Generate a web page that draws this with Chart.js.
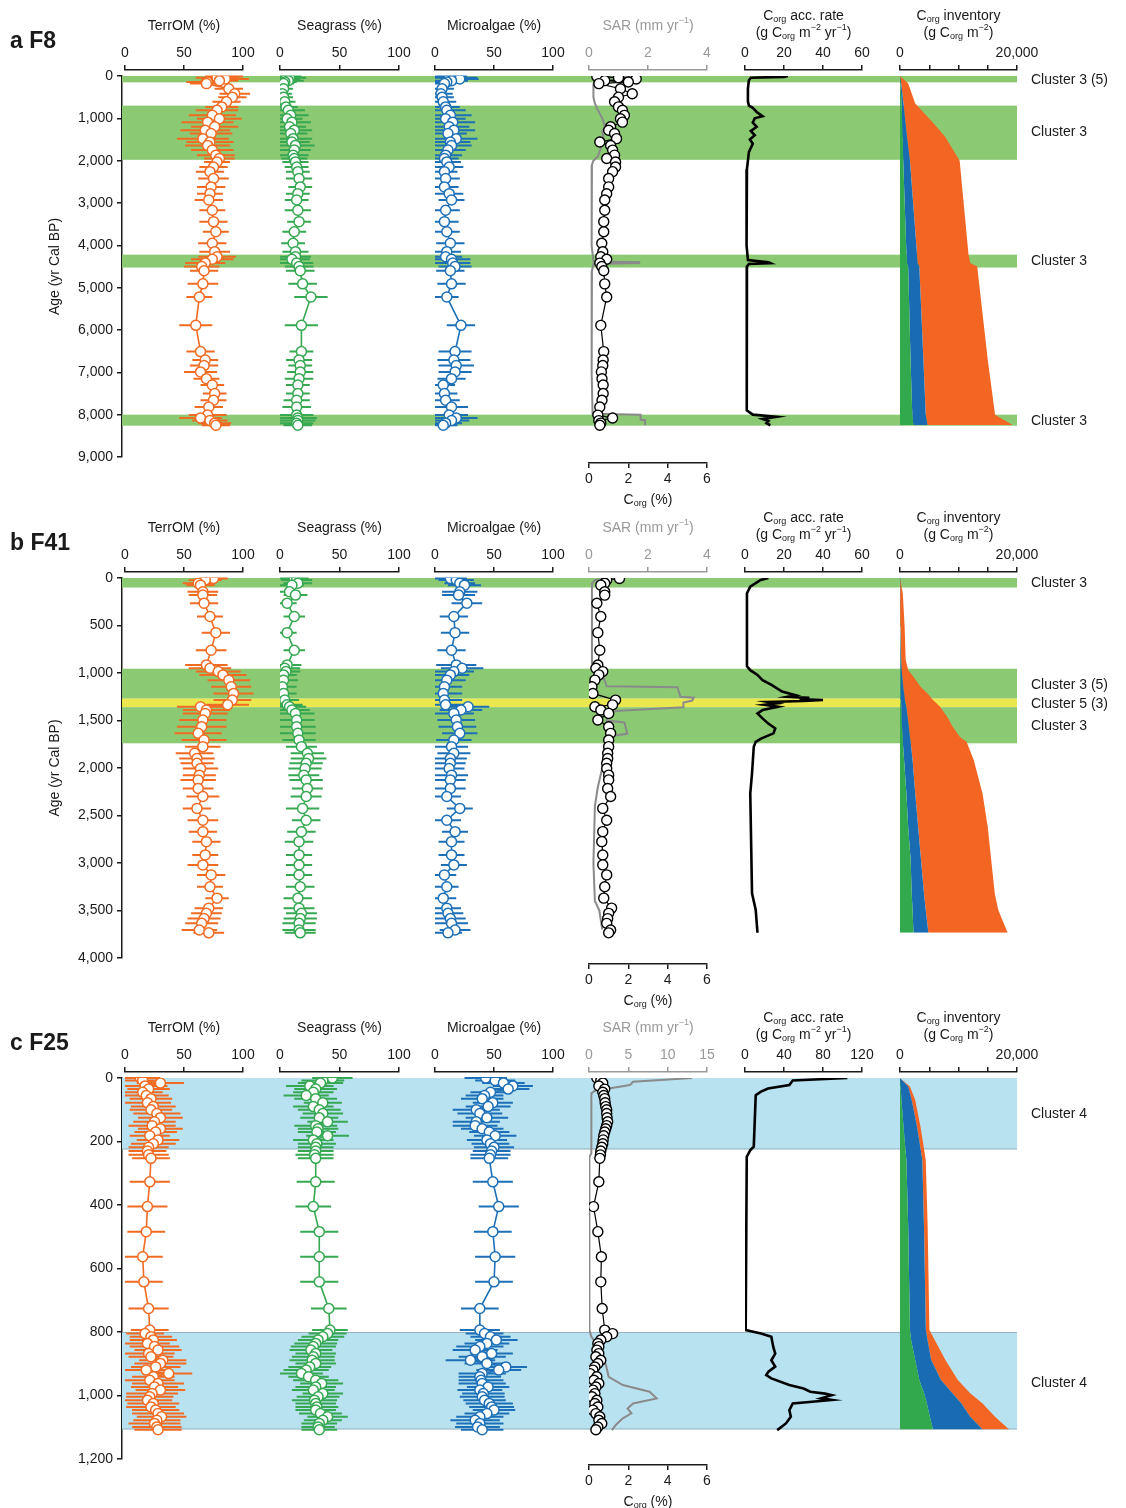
<!DOCTYPE html>
<html>
<head>
<meta charset="utf-8">
<script src="https://cdn.jsdelivr.net/npm/chart.js@4.4.1/dist/chart.umd.min.js"></script>
<style>
  body { margin: 0; background: #fff; }
  .panel { position: absolute; left: 0; }
</style>
</head>
<body>
<div class="panel" style="top:0"><canvas id="panelA" width="1126" height="512"></canvas></div>
<div class="panel" style="top:505px"><canvas id="panelB" width="1126" height="507"></canvas></div>
<div class="panel" style="top:1005px"><canvas id="panelC" width="1126" height="503"></canvas></div>
<script>
// ---- a F8 ----
const agesA = [10, 40, 70, 110, 140, 180, 300, 420, 500, 610, 730, 810, 930, 1010, 1090, 1200, 1280, 1360, 1480, 1560, 1640, 1750, 1870, 1950, 2030, 2150, 2260, 2420, 2620, 2780, 2930, 3170, 3440, 3680, 3950, 4150, 4270, 4330, 4420, 4500, 4600, 4910, 5220, 5890, 6510, 6710, 6840, 6990, 7150, 7300, 7500, 7660, 7820, 8010, 8080, 8140, 8200, 8250];
const terrA = [84, 78, 85, 80, 70, 69, 88, 93, 91, 86, 82, 78, 74, 80, 70, 76, 68, 73, 66, 72, 70, 74, 77, 80, 78, 75, 72, 75, 73, 72, 71, 74, 75, 77, 74, 76, 78, 74, 68, 65, 67, 66, 63, 60, 64, 68, 67, 64, 69, 74, 76, 75, 71, 70, 64, 72, 76, 77];
const terrErrA = [16, 18, 20, 16, 18, 14, 12, 13, 12, 12, 14, 18, 20, 19, 22, 20, 21, 18, 22, 20, 19, 18, 16, 13, 11, 12, 12, 13, 12, 11, 12, 11, 12, 11, 12, 13, 16, 18, 17, 15, 12, 13, 11, 14, 12, 11, 12, 14, 11, 10, 10, 11, 12, 16, 18, 15, 14, 12];
const seaA = [6, 8, 5, 7, 4, 3, 3, 2, 3, 4, 5, 7, 9, 6, 10, 8, 12, 9, 11, 10, 13, 12, 11, 12, 13, 14, 15, 16, 17, 15, 14, 15, 16, 12, 11, 13, 13, 10, 14, 16, 17, 19, 26, 18, 18, 16, 17, 17, 16, 15, 15, 14, 14, 14, 15, 15, 14, 15];
const seaErrA = [12, 14, 12, 13, 10, 9, 8, 8, 8, 9, 10, 14, 15, 13, 16, 14, 15, 14, 16, 15, 16, 14, 13, 11, 11, 10, 10, 11, 10, 10, 10, 11, 10, 10, 10, 11, 13, 15, 14, 12, 12, 12, 14, 14, 10, 11, 10, 11, 12, 10, 10, 11, 12, 14, 16, 15, 14, 12];
const microA = [12, 18, 21, 14, 10, 8, 6, 5, 6, 7, 9, 10, 13, 9, 15, 12, 16, 11, 18, 13, 14, 11, 9, 8, 10, 12, 8, 9, 8, 12, 14, 9, 8, 10, 13, 10, 9, 14, 15, 17, 13, 14, 10, 22, 17, 16, 18, 17, 14, 7, 8, 9, 14, 12, 18, 14, 9, 7];
const microErrA = [15, 18, 16, 14, 12, 10, 10, 10, 10, 11, 12, 16, 18, 17, 19, 17, 18, 16, 18, 17, 17, 15, 14, 12, 12, 12, 11, 12, 12, 12, 11, 12, 12, 11, 12, 12, 14, 16, 15, 14, 12, 12, 10, 12, 14, 14, 15, 14, 12, 10, 11, 12, 14, 16, 18, 15, 14, 12];
const corgA = [0.4, 1.5, 2.4, 0.8, 2.0, 0.5, 1.6, 2.2, 1.5, 1.3, 1.5, 1.7, 1.8, 1.6, 1.7, 1.1, 1.0, 1.3, 1.4, 0.55, 1.1, 1.2, 1.3, 0.9, 1.35, 1.35, 1.2, 1.0, 1.0, 0.9, 0.8, 0.8, 0.75, 0.75, 0.65, 0.7, 0.6, 0.9, 0.55, 0.65, 0.75, 0.8, 0.9, 0.6, 0.75, 0.72, 0.7, 0.63, 0.66, 0.72, 0.72, 0.66, 0.55, 0.45, 1.2, 0.5, 0.6, 0.55];
const sarAgesA = [0, 20, 40, 100, 200, 500, 650, 800, 1000, 1200, 1300, 1500, 1700, 1900, 2000, 2100, 3000, 4000, 4380, 4400, 4420, 4440, 4600, 6000, 7000, 7980, 8000, 8120, 8130, 8250];
const sarA = [1.6, 1.6, 0.6, 0.2, 0.15, 0.15, 0.2, 0.3, 0.45, 0.55, 0.45, 0.5, 0.4, 0.3, 0.15, 0.1, 0.08, 0.1, 0.15, 1.7, 1.7, 0.15, 0.1, 0.08, 0.1, 0.12, 1.75, 1.75, 1.9, 1.9];
const accAgesA = [0, 20, 40, 100, 300, 600, 700, 750, 850, 950, 1000, 1100, 1200, 1300, 1400, 1500, 1600, 1800, 2000, 2200, 4000, 4350, 4400, 4420, 4440, 4500, 6000, 7900, 8000, 8050, 8100, 8150, 8200, 8250];
const accA = [22, 20, 3, 2, 1.5, 1.5, 2, 4, 6, 9, 5, 4, 6, 3, 5, 2.5, 4, 2, 1.5, 1, 0.8, 1.5, 12, 13, 2, 1, 0.8, 1, 4, 16, 9, 12, 11, 13];
const invAgesA = [0, 180, 650, 1050, 1440, 2000, 4200, 4420, 4500, 6700, 8000, 8250];
const invGreenA = [0, 100, 250, 350, 450, 550, 1100, 1200, 1400, 1800, 2100, 2300];
const invBlueA = [0, 200, 600, 900, 1200, 1700, 2900, 3000, 3300, 4000, 4400, 4700];
const invTotalA = [0, 1400, 2600, 5300, 7750, 10200, 11700, 12000, 13200, 15000, 16250, 19300];
const bandsA = [[0, 150, 'c3'], [700, 1980, 'c3'], [4220, 4525, 'c3'], [8000, 8260, 'c3']];
const clustersA = [['Cluster 3 (5)', 95], ['Cluster 3', 1320], ['Cluster 3', 4370], ['Cluster 3', 8150]];

// ---- b F41 ----
const agesB = [5, 20, 55, 75, 145, 180, 265, 405, 575, 760, 915, 950, 985, 1020, 1075, 1145, 1215, 1285, 1335, 1355, 1390, 1425, 1495, 1565, 1635, 1705, 1775, 1845, 1900, 1950, 2005, 2075, 2125, 2215, 2300, 2425, 2550, 2670, 2775, 2915, 3020, 3125, 3250, 3370, 3475, 3530, 3585, 3635, 3705, 3735];
const terrB = [75, 68, 62, 64, 66, 66, 67, 72, 77, 73, 69, 72, 79, 83, 88, 90, 92, 91, 87, 64, 69, 68, 66, 65, 62, 67, 66, 59, 61, 61, 64, 63, 62, 62, 66, 61, 66, 66, 69, 68, 66, 73, 72, 78, 71, 69, 67, 65, 63, 71];
const terrErrB = [12, 14, 13, 12, 13, 12, 12, 11, 12, 13, 18, 18, 19, 20, 18, 17, 17, 16, 18, 20, 20, 19, 20, 21, 20, 19, 15, 16, 15, 14, 15, 14, 15, 13, 14, 12, 13, 12, 12, 11, 13, 12, 11, 10, 12, 13, 14, 14, 15, 13];
const seaB = [12, 14, 15, 10, 8, 13, 6, 12, 6, 12, 6, 4, 5, 3, 3, 2, 3, 4, 6, 8, 10, 13, 14, 14, 15, 16, 18, 23, 24, 22, 21, 20, 22, 23, 22, 19, 22, 18, 16, 16, 16, 16, 17, 15, 16, 18, 17, 16, 16, 17];
const seaErrB = [12, 13, 12, 10, 9, 10, 8, 9, 8, 9, 12, 13, 12, 11, 12, 12, 11, 12, 13, 14, 15, 16, 15, 16, 15, 14, 13, 14, 15, 14, 14, 13, 14, 13, 13, 14, 12, 12, 12, 11, 11, 11, 12, 12, 13, 13, 14, 14, 14, 13];
const microB = [13, 18, 21, 25, 21, 20, 27, 16, 17, 14, 18, 23, 16, 13, 10, 8, 7, 8, 9, 28, 22, 16, 18, 19, 21, 16, 14, 16, 13, 13, 12, 14, 13, 13, 10, 21, 10, 17, 14, 14, 16, 8, 10, 7, 10, 11, 13, 14, 17, 11];
const microErrB = [14, 15, 13, 14, 15, 14, 13, 12, 12, 12, 17, 18, 17, 16, 16, 15, 16, 15, 16, 18, 18, 17, 16, 16, 15, 15, 14, 14, 14, 13, 13, 14, 13, 13, 12, 11, 12, 11, 11, 11, 11, 10, 10, 11, 12, 13, 13, 14, 13, 12];
const corgB = [1.55, 0.9, 0.8, 0.6, 0.8, 0.8, 0.4, 0.6, 0.45, 0.55, 0.45, 0.35, 0.7, 0.5, 0.3, 0.15, 0.2, 1.35, 1.2, 0.3, 0.6, 1.0, 0.45, 1.0, 1.1, 1.0, 1.0, 0.95, 0.95, 0.9, 0.9, 1.0, 1.0, 0.95, 1.1, 0.7, 0.9, 0.7, 0.65, 0.7, 0.7, 0.9, 0.8, 0.75, 1.15, 1.0, 0.95, 0.9, 1.1, 1.0];
const sarAgesB = [0, 20, 60, 300, 900, 980, 1050, 1140, 1150, 1250, 1260, 1290, 1310, 1360, 1400, 1450, 1500, 1520, 1640, 1660, 1700, 2000, 2200, 2400, 3000, 3400, 3500, 3600, 3700];
const sarB = [1.0, 0.2, 0.1, 0.1, 0.1, 0.3, 0.5, 0.6, 3.0, 3.1, 3.55, 3.5, 3.2, 3.2, 0.9, 0.7, 0.6, 1.2, 1.3, 0.8, 0.55, 0.45, 0.3, 0.2, 0.15, 0.2, 0.35, 0.4, 0.45];
const accAgesB = [0, 21, 90, 160, 930, 970, 1020, 1075, 1125, 1195, 1235, 1250, 1262, 1275, 1285, 1295, 1305, 1320, 1335, 1355, 1390, 1425, 1478, 1530, 1583, 1635, 1690, 1725, 1776, 2056, 2267, 3320, 3495, 3734];
const accB = [12, 8, 2.7, 1, 1, 2.7, 6.4, 9, 13.6, 19, 26, 22, 33, 28, 40, 30, 12, 16, 10, 17, 9, 6.4, 9, 11.8, 15.5, 14.6, 8.2, 5.5, 4.5, 3.6, 2.7, 3.6, 5.5, 6.4];
const invAgesB = [0, 160, 510, 860, 970, 1040, 1145, 1215, 1285, 1355, 1460, 1565, 1670, 1725, 1915, 2265, 2620, 2970, 3320, 3495, 3735];
const invGreenB = [0, 0, 20, 40, 60, 80, 110, 130, 160, 180, 260, 340, 420, 480, 700, 1090, 1400, 1820, 2000, 2150, 2300];
const invBlueB = [0, 40, 100, 200, 300, 400, 550, 700, 850, 1090, 1300, 1500, 1700, 1820, 2150, 2600, 3100, 3600, 4100, 4400, 4850];
const invTotalB = [0, 480, 790, 970, 1400, 2300, 3500, 4700, 5640, 6850, 8060, 9000, 10200, 11400, 12600, 14100, 15000, 15600, 16200, 16800, 18400];
const bandsB = [[0, 100, 'c3'], [955, 1270, 'c3'], [1270, 1360, 'c5'], [1360, 1740, 'c3']];
const clustersB = [['Cluster 3', 53], ['Cluster 3 (5)', 1126], ['Cluster 5 (3)', 1326], ['Cluster 3', 1558]];

// ---- c F25 ----
const agesC = [0, 8, 16, 25, 35, 45, 55, 65, 78, 90, 100, 112, 125, 138, 150, 160, 170, 182, 195, 207, 218, 230, 242, 253, 327, 405, 484, 563, 642, 726, 794, 805, 815, 825, 836, 846, 857, 868, 878, 889, 899, 910, 920, 931, 941, 952, 962, 973, 983, 994, 1004, 1015, 1025, 1036, 1046, 1057, 1067, 1078, 1088, 1099, 1108];
const terrC = [13, 15, 30, 17, 20, 15, 18, 22, 19, 24, 22, 27, 30, 25, 23, 30, 26, 21, 28, 24, 20, 19, 20, 22, 21, 19, 18, 15, 16, 20, 21, 17, 22, 24, 19, 25, 28, 20, 22, 32, 30, 26, 18, 37, 24, 21, 28, 25, 30, 23, 21, 19, 24, 22, 26, 28, 31, 27, 25, 27, 28];
const terrErrC = [17, 18, 20, 19, 18, 17, 19, 18, 20, 19, 18, 20, 19, 18, 20, 19, 18, 17, 18, 19, 17, 16, 17, 16, 17, 17, 16, 17, 16, 17, 16, 16, 18, 20, 19, 21, 20, 22, 19, 20, 22, 21, 18, 20, 18, 21, 22, 20, 21, 22, 20, 21, 22, 21, 20, 22, 21, 20, 22, 21, 20];
const seaC = [44, 36, 34, 25, 30, 28, 22, 30, 36, 28, 33, 36, 33, 40, 30, 32, 31, 40, 28, 31, 30, 30, 29, 30, 30, 28, 33, 33, 33, 41, 42, 40, 36, 32, 30, 28, 26, 30, 28, 27, 30, 25, 22, 18, 24, 30, 35, 30, 28, 36, 32, 29, 30, 31, 30, 34, 40, 36, 33, 32, 33];
const seaErrC = [17, 18, 19, 20, 18, 17, 19, 18, 16, 17, 18, 17, 16, 17, 18, 17, 16, 18, 17, 16, 15, 15, 16, 15, 16, 15, 16, 16, 16, 15, 15, 16, 18, 17, 18, 19, 18, 17, 18, 19, 17, 18, 19, 18, 17, 19, 18, 17, 18, 17, 18, 19, 17, 18, 17, 18, 17, 16, 15, 14, 15];
const microC = [43, 51, 58, 66, 62, 47, 42, 40, 49, 45, 35, 38, 44, 35, 34, 40, 46, 51, 44, 47, 50, 48, 47, 46, 49, 54, 49, 51, 50, 38, 38, 42, 47, 52, 44, 38, 34, 48, 40, 30, 44, 60, 54, 40, 38, 39, 40, 45, 38, 41, 40, 42, 46, 48, 50, 44, 38, 34, 38, 36, 40];
const microErrC = [18, 17, 18, 17, 18, 17, 16, 18, 17, 19, 20, 19, 18, 20, 19, 18, 17, 18, 17, 16, 17, 16, 17, 16, 17, 17, 16, 17, 16, 16, 17, 16, 17, 18, 19, 20, 19, 18, 20, 21, 19, 18, 19, 20, 18, 19, 20, 18, 19, 18, 19, 18, 20, 19, 18, 19, 20, 21, 20, 19, 18];
const corgC = [0.4, 0.6, 0.7, 0.5, 0.8, 0.7, 0.75, 0.8, 0.82, 0.85, 0.9, 0.9, 0.92, 0.95, 0.9, 0.85, 0.8, 0.75, 0.72, 0.7, 0.65, 0.6, 0.58, 0.55, 0.5, 0.23, 0.45, 0.63, 0.6, 0.67, 0.8, 1.2, 0.9, 0.6, 0.45, 0.5, 0.4, 0.5, 0.35, 0.6, 0.45, 0.3, 0.2, 0.05, 0.4, 0.25, 0.5, 0.35, 0.2, 0.3, 0.15, 0.4, 0.3, 0.45, 0.2, 0.35, 0.55, 0.5, 0.65, 0.45, 0.35];
const sarAgesC = [0, 12, 22, 33, 38, 48, 237, 248, 794, 815, 857, 909, 941, 967, 988, 1009, 1025, 1041, 1056, 1072, 1093, 1109];
const sarC = [13.1, 5.6, 5.2, 2.5, 0.9, 0.3, 0.3, 0.05, 0.05, 0.3, 1.6, 2.2, 2.5, 4.3, 7.7, 8.6, 5.6, 4.9, 5.4, 4.3, 3.4, 2.9];
const accAgesC = [0, 8, 22, 33, 43, 54, 216, 227, 248, 794, 805, 815, 847, 868, 889, 909, 925, 936, 946, 967, 978, 988, 994, 999, 1009, 1014, 1025, 1046, 1067, 1088, 1109];
const accC = [105, 49, 45.5, 23.6, 16.4, 11, 9, 5.5, 1.8, 0.7, 16.4, 27, 29, 31, 27, 31, 24, 21.8, 27, 45.5, 60, 67, 82, 89, 78, 89, 49, 45.5, 47, 42, 33];
const invAgesC = [0, 27, 69, 153, 258, 468, 794, 825, 888, 951, 993, 1025, 1067, 1107];
const invGreenC = [0, 100, 250, 600, 1090, 1400, 1700, 1900, 2600, 3300, 4120, 4600, 5100, 5640];
const invBlueC = [0, 1390, 2000, 2900, 3820, 4100, 4420, 4700, 5330, 7000, 8970, 10500, 12000, 14120];
const invTotalC = [0, 1700, 2600, 3500, 4400, 4730, 5030, 5940, 7760, 9880, 12000, 14120, 16240, 18670];
const bandsC = [[0, 225, 'c4'], [800, 1107, 'c4']];
const clustersC = [['Cluster 4', 113], ['Cluster 4', 962]];

const FONT = '"Liberation Sans", Arial, Helvetica, sans-serif';
const FS = 14;
const COLORS = {
  terr: '#f26b22', sea: '#35a851', micro: '#1d70b7',
  ink: '#1a1a1a', sar: '#8a8a8a', sarAxis: '#999999',
  invGreen: '#31a94c', invBlue: '#1a6cb2', invOrange: '#f26522',
  c3: '#8bc972', c5: '#ebe74e', c4: '#b9e2f1'
};
// pixel span of each column axis on the page
const AXIS_PLACE = { xT: [125, 243], xS: [280, 399], xM: [435, 553], xSAR: [589, 707], xAcc: [745, 862], xInv: [900, 1017], xC: [589, 707] };
const AXIS_GAP = 6;

const TITLES = {
  xT: [[['TerrOM (%)', '']]],
  xS: [[['Seagrass (%)', '']]],
  xM: [[['Microalgae (%)', '']]],
  xSAR: [[['SAR (mm yr', ''], ['\u22121', 'sup'], [')', '']]],
  xAcc: [[['C', ''], ['org', 'sub'], [' acc. rate', '']],
         [['(g C', ''], ['org', 'sub'], [' m', ''], ['\u22122', 'sup'], [' yr', ''], ['\u22121', 'sup'], [')', '']]],
  xInv: [[['C', ''], ['org', 'sub'], [' inventory', '']],
         [['(g C', ''], ['org', 'sub'], [' m', ''], ['\u22122', 'sup'], [')', '']]],
  xC: [[['C', ''], ['org', 'sub'], [' (%)', '']]]
};

function drawRich(ctx, parts, cx, cy, color) {
  const small = Math.round(FS * 0.64);
  const fontFor = k => `${k ? small : FS}px ${FONT}`;
  let total = 0;
  parts.forEach(([t, k]) => { ctx.font = fontFor(k); total += ctx.measureText(t).width; });
  let x = cx - total / 2;
  ctx.fillStyle = color;
  ctx.textBaseline = 'middle';
  ctx.textAlign = 'left';
  parts.forEach(([t, k]) => {
    ctx.font = fontFor(k);
    const dy = k === 'sub' ? 4 : k === 'sup' ? -5 : 0;
    ctx.fillText(t, x, cy + dy);
    x += ctx.measureText(t).width;
  });
}

const pts = (xs, ys) => xs.map((x, i) => ({ x, y: ys[i] }));

function proxySet(label, values, errors, ages, color, axis) {
  return {
    label, data: pts(values, ages), errors, xAxisID: axis, yAxisID: 'y', indexAxis: 'y',
    borderColor: color, borderWidth: 1.6, backgroundColor: '#fff',
    pointRadius: 5, pointBorderWidth: 1.5, pointBackgroundColor: '#fff', pointBorderColor: color
  };
}

function axisOpts(id, position, max, step, color, callback) {
  return {
    type: 'linear', axis: 'x', position, min: 0, max,
    ticks: { stepSize: step, autoSkip: false, maxRotation: 0, minRotation: 0, color, padding: 3,
             font: { family: FONT, size: FS }, callback },
    grid: { drawOnChartArea: false, tickLength: 5, color, lineWidth: 1.5 },
    border: { display: true, color, width: 1.5 },
    title: { display: false },
    afterFit: s => { s._fitH = s.height; s.height = 0; }
  };
}

const panelPlugin = {
  id: 'panelPlugin',
  afterLayout(chart) {
    const area = chart.chartArea;
    Object.values(chart.scales).forEach(s => {
      const place = AXIS_PLACE[s.id];
      if (!place) return;
      const h = s._fitH || 0;
      s.left = place[0]; s.right = place[1]; s.width = place[1] - place[0];
      if (s.position === 'top') { s.bottom = area.top - AXIS_GAP; s.top = s.bottom - h; }
      else { s.top = area.bottom + AXIS_GAP; s.bottom = s.top + h; }
      s.height = h;
      s.configure();
    });
  },
  beforeDatasetsDraw(chart) {
    const { ctx, chartArea: area, scales } = chart;
    const p = chart.options.plugins.panelPlugin;
    const y = scales.y;
    ctx.save();
    p.bands.forEach(([from, to, kind]) => {
      const y1 = y.getPixelForValue(from), y2 = y.getPixelForValue(to);
      ctx.fillStyle = COLORS[kind];
      ctx.fillRect(area.left, y1, area.right - area.left, y2 - y1);
      if (kind === 'c4') {
        ctx.fillStyle = 'rgba(140,160,170,0.7)';
        ctx.fillRect(area.left, y2 - 1, area.right - area.left, 1);
        if (from > 0) ctx.fillRect(area.left, y1, area.right - area.left, 1);
      }
    });
    // horizontal error bars
    chart.data.datasets.forEach(ds => {
      if (!ds.errors) return;
      const xs = scales[ds.xAxisID];
      ctx.strokeStyle = ds.borderColor;
      ctx.lineWidth = 2;
      ctx.beginPath();
      ds.data.forEach((pt, j) => {
        const e = ds.errors[j];
        const py = y.getPixelForValue(pt.y);
        ctx.moveTo(xs.getPixelForValue(Math.max(0, pt.x - e)), py);
        ctx.lineTo(xs.getPixelForValue(pt.x + e), py);
      });
      ctx.stroke();
    });
    ctx.restore();
  },
  afterDraw(chart) {
    const { ctx, chartArea: area, scales } = chart;
    const p = chart.options.plugins.panelPlugin;
    ctx.save();
    Object.values(scales).forEach(s => {
      const lines = TITLES[s.id];
      if (!lines) return;
      const cx = (s.left + s.right) / 2;
      const color = s.id === 'xSAR' ? COLORS.sarAxis : COLORS.ink;
      if (s.position === 'top') {
        if (lines.length === 1) drawRich(ctx, lines[0], cx, s.bottom - 44, color);
        else { drawRich(ctx, lines[0], cx, s.bottom - 54, color); drawRich(ctx, lines[1], cx, s.bottom - 37, color); }
      } else {
        drawRich(ctx, lines[0], cx, s.top + 37, color);
      }
    });
    ctx.fillStyle = COLORS.ink;
    ctx.textAlign = 'left';
    ctx.textBaseline = 'middle';
    ctx.font = `${FS}px ${FONT}`;
    p.clusters.forEach(([text, age]) => ctx.fillText(text, 1031, scales.y.getPixelForValue(age)));
    ctx.font = `bold 23px ${FONT}`;
    ctx.fillText(p.label, 10, area.top - 34);
    ctx.restore();
  }
};

function buildPanel(canvasId, p) {
  const canvas = document.getElementById(canvasId);
  const datasets = [
    proxySet('TerrOM', p.terr, p.terrErr, p.ages, COLORS.terr, 'xT'),
    proxySet('Seagrass', p.sea, p.seaErr, p.ages, COLORS.sea, 'xS'),
    proxySet('Microalgae', p.micro, p.microErr, p.ages, COLORS.micro, 'xM'),
    {
      label: 'Corg', data: pts(p.corg, p.ages), xAxisID: 'xC', yAxisID: 'y', indexAxis: 'y',
      borderColor: '#000', borderWidth: 1.2, pointRadius: 5, pointBorderWidth: 1.4,
      pointBackgroundColor: '#fff', pointBorderColor: '#000'
    },
    {
      label: 'SAR', data: pts(p.sar, p.sarAges), xAxisID: 'xSAR', yAxisID: 'y', indexAxis: 'y',
      borderColor: COLORS.sar, borderWidth: 2, pointRadius: 0
    },
    {
      label: 'Corg acc. rate', data: pts(p.acc, p.accAges), xAxisID: 'xAcc', yAxisID: 'y', indexAxis: 'y',
      borderColor: '#000', borderWidth: 2.6, pointRadius: 0
    },
    {
      label: 'Seagrass inventory', data: pts(p.invGreen, p.invAges), xAxisID: 'xInv', yAxisID: 'y', indexAxis: 'y',
      fill: 'origin', backgroundColor: COLORS.invGreen, borderWidth: 0, pointRadius: 0
    },
    {
      label: 'Microalgae inventory', data: pts(p.invBlue, p.invAges), xAxisID: 'xInv', yAxisID: 'y', indexAxis: 'y',
      fill: '-1', backgroundColor: COLORS.invBlue, borderWidth: 0, pointRadius: 0
    },
    {
      label: 'TerrOM inventory', data: pts(p.invTotal, p.invAges), xAxisID: 'xInv', yAxisID: 'y', indexAxis: 'y',
      fill: '-1', backgroundColor: COLORS.invOrange, borderWidth: 0, pointRadius: 0
    }
  ];

  const invTicks = v => (v === 0 || v === 20000) ? v.toLocaleString('en-US') : '';

  new Chart(canvas, {
    type: 'line',
    data: { datasets },
    options: {
      responsive: false,
      animation: false,
      devicePixelRatio: 1,
      indexAxis: 'y',
      layout: { padding: { left: 0, right: 1126 - 1017, top: p.top, bottom: canvas.height - p.bottom } },
      plugins: {
        legend: { display: false },
        tooltip: { enabled: false },
        panelPlugin: { bands: p.bands, clusters: p.clusters, label: p.label }
      },
      scales: {
        y: {
          type: 'linear', axis: 'y', position: 'left', reverse: true, min: 0, max: p.ageMax,
          ticks: { stepSize: p.ageStep, autoSkip: false, color: COLORS.ink, padding: 4, font: { family: FONT, size: FS } },
          grid: { drawOnChartArea: false, tickLength: 5, color: COLORS.ink, lineWidth: 1.5 },
          border: { display: true, color: COLORS.ink, width: 1.5 },
          title: { display: p.ageTitle, text: 'Age (yr Cal BP)', color: COLORS.ink,
                   font: { family: FONT, size: FS }, padding: { top: 47, bottom: 0 } },
          afterFit: s => { s.width = 122; }
        },
        xT: axisOpts('xT', 'top', 100, 50, COLORS.ink),
        xS: axisOpts('xS', 'top', 100, 50, COLORS.ink),
        xM: axisOpts('xM', 'top', 100, 50, COLORS.ink),
        xSAR: axisOpts('xSAR', 'top', p.sarMax, p.sarStep, COLORS.sarAxis),
        xAcc: axisOpts('xAcc', 'top', p.accMax, p.accStep, COLORS.ink),
        xInv: axisOpts('xInv', 'top', 20000, 5000, COLORS.ink, invTicks),
        xC: axisOpts('xC', 'bottom', 6, 2, COLORS.ink)
      }
    },
    plugins: [panelPlugin]
  });
}

buildPanel('panelA', {
  label: 'a F8', top: 76, bottom: 457, ageMax: 9000, ageStep: 1000, ageTitle: true,
  ages: agesA, terr: terrA, terrErr: terrErrA, sea: seaA, seaErr: seaErrA, micro: microA, microErr: microErrA,
  corg: corgA, sarAges: sarAgesA, sar: sarA, sarMax: 4, sarStep: 2,
  accAges: accAgesA, acc: accA, accMax: 60, accStep: 20,
  invAges: invAgesA, invGreen: invGreenA, invBlue: invBlueA, invTotal: invTotalA,
  bands: bandsA, clusters: clustersA
});

buildPanel('panelB', {
  label: 'b F41', top: 73, bottom: 453, ageMax: 4000, ageStep: 500, ageTitle: true,
  ages: agesB, terr: terrB, terrErr: terrErrB, sea: seaB, seaErr: seaErrB, micro: microB, microErr: microErrB,
  corg: corgB, sarAges: sarAgesB, sar: sarB, sarMax: 4, sarStep: 2,
  accAges: accAgesB, acc: accB, accMax: 60, accStep: 20,
  invAges: invAgesB, invGreen: invGreenB, invBlue: invBlueB, invTotal: invTotalB,
  bands: bandsB, clusters: clustersB
});

buildPanel('panelC', {
  label: 'c F25', top: 73, bottom: 454, ageMax: 1200, ageStep: 200, ageTitle: false,
  ages: agesC, terr: terrC, terrErr: terrErrC, sea: seaC, seaErr: seaErrC, micro: microC, microErr: microErrC,
  corg: corgC, sarAges: sarAgesC, sar: sarC, sarMax: 15, sarStep: 5,
  accAges: accAgesC, acc: accC, accMax: 120, accStep: 40,
  invAges: invAgesC, invGreen: invGreenC, invBlue: invBlueC, invTotal: invTotalC,
  bands: bandsC, clusters: clustersC
});
</script>
</body>
</html>
